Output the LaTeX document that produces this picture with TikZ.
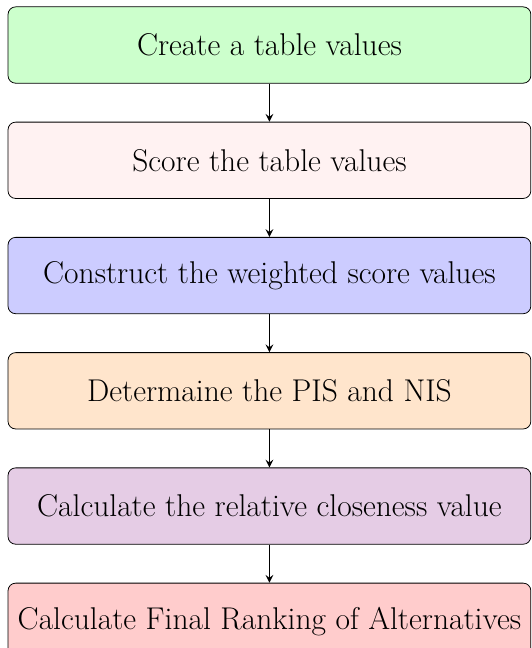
\documentclass[tikz,border=0pt]{standalone}
\usepackage{amsmath}
\usetikzlibrary{positioning}

\begin{document}
\begin{tikzpicture}[
    stepbox/.style={draw, rounded corners, minimum width=274pt, minimum height=40pt,
        inner sep=2pt, font=\fontsize{16.5}{19}\selectfont},
    node distance=20pt]
\useasboundingbox (-141.2pt,23.6pt) rectangle (137.6pt,-316pt);
\node[stepbox, fill=green!20] (create) {Create a table values};
\node[stepbox, fill=red!5, below=of create] (score) {Score the table values};
\node[stepbox, fill=blue!20, below=of score] (weight) {Construct the weighted score values};
\node[stepbox, fill=orange!20, below=of weight] (pisnis) {Determaine the PIS and NIS};
\node[stepbox, fill=violet!20, below=of pisnis] (close) {Calculate the relative closeness value};
\node[stepbox, fill=red!20, below=of close] (rank) {Calculate Final Ranking of Alternatives};
\draw[-stealth, thick] (create) -- (score);
\draw[-stealth, thick] (score) -- (weight);
\draw[-stealth, thick] (weight) -- (pisnis);
\draw[-stealth, thick] (pisnis) -- (close);
\draw[-stealth, thick] (close) -- (rank);
\end{tikzpicture}
\end{document}
